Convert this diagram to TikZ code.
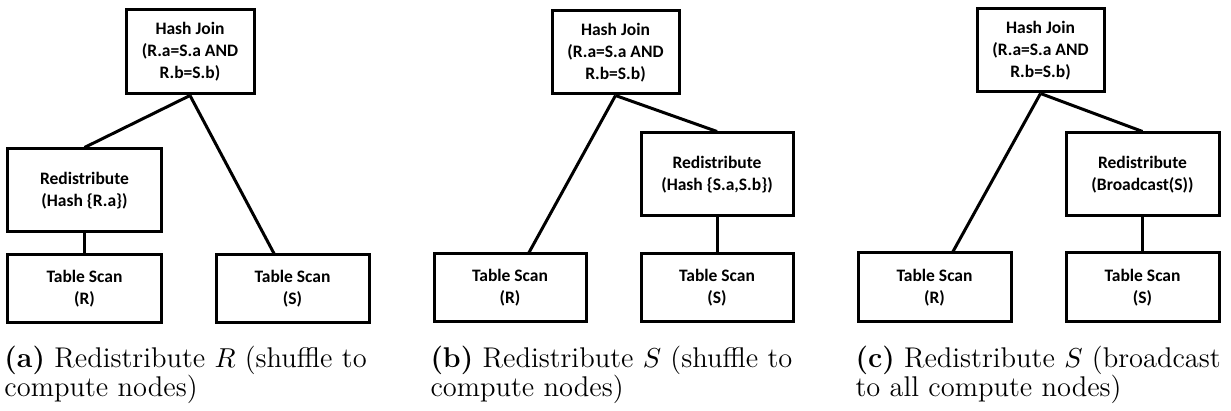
\documentclass[tikz,border=0pt]{standalone}
\usepackage{fontspec}
\newfontfamily\boxfont{Carlito}
\begin{document}
\begin{tikzpicture}[x=0.4pt,y=-0.4pt,
  opbox/.style={draw=black,line width=1.2pt,rectangle,inner sep=0pt,align=center,
    font=\boxfont\bfseries\fontsize{7}{8.8}\selectfont},
  link/.style={line width=1.2pt},
  subcaption/.style={anchor=base west,inner sep=0pt,align=left,
    font=\fontsize{11.4}{11.6}\selectfont}]
\useasboundingbox (0,0) rectangle (1231,411);
% (a)
\node[opbox,minimum width=51.2pt,minimum height=33.6pt] (hja) at (190,52) {Hash Join\\(R.a=S.a AND\\R.b=S.b)};
\node[opbox,minimum width=61.2pt,minimum height=33.2pt] (rda) at (84.5,190.5) {Redistribute\\(Hash \{R.a\})};
\node[opbox,minimum width=61.2pt,minimum height=27.2pt] (tra) at (84.5,289) {Table Scan\\(R)};
\node[opbox,minimum width=61.2pt,minimum height=27.2pt] (tsa) at (292.5,289) {Table Scan\\(S)};
\draw[link] (hja.south) -- (rda.north);
\draw[link] (hja.south) -- ([xshift=-7.4pt]tsa.north);
\draw[link] (rda.south) -- (tra.north);
\node[subcaption] (capa) at (4,397) {\textbf{(a)} Redistribute $R$ (shuffle to\\compute nodes)};
% (b)
\node[opbox,minimum width=50.8pt,minimum height=33.2pt] (hjb) at (615.5,52.5) {Hash Join\\(R.a=S.a AND\\R.b=S.b)};
\node[opbox,minimum width=60.8pt,minimum height=33.2pt] (rdb) at (717,174.5) {Redistribute\\(Hash \{S.a,S.b\})};
\node[opbox,minimum width=60.8pt,minimum height=27.2pt] (trb) at (510,288) {Table Scan\\(R)};
\node[opbox,minimum width=60.8pt,minimum height=27.2pt] (tsb) at (717,288) {Table Scan\\(S)};
\draw[link] (hjb.south) -- ([xshift=7.6pt]trb.north);
\draw[link] (hjb.south) -- (rdb.north);
\draw[link] (rdb.south) -- (tsb.north);
\node[subcaption] (capb) at (430,397) {\textbf{(b)} Redistribute $S$ (shuffle to\\compute nodes)};
% (c)
\node[opbox,minimum width=50.8pt,minimum height=33.2pt] (hjc) at (1040.5,50.5) {Hash Join\\(R.a=S.a AND\\R.b=S.b)};
\node[opbox,minimum width=61.2pt,minimum height=33.2pt] (rdc) at (1142.5,174.5) {Redistribute\\(Broadcast(S))};
\node[opbox,minimum width=61.2pt,minimum height=27.6pt] (trc) at (934.5,287.5) {Table Scan\\(R)};
\node[opbox,minimum width=61.2pt,minimum height=27.6pt] (tsc) at (1142.5,287.5) {Table Scan\\(S)};
\draw[link] (hjc.south) -- ([xshift=7.4pt]trc.north);
\draw[link] (hjc.south) -- (rdc.north);
\draw[link] (rdc.south) -- (tsc.north);
\node[subcaption] (capc) at (855,397) {\textbf{(c)} Redistribute $S$ (broadcast\\to all compute nodes)};
\end{tikzpicture}
\end{document}
